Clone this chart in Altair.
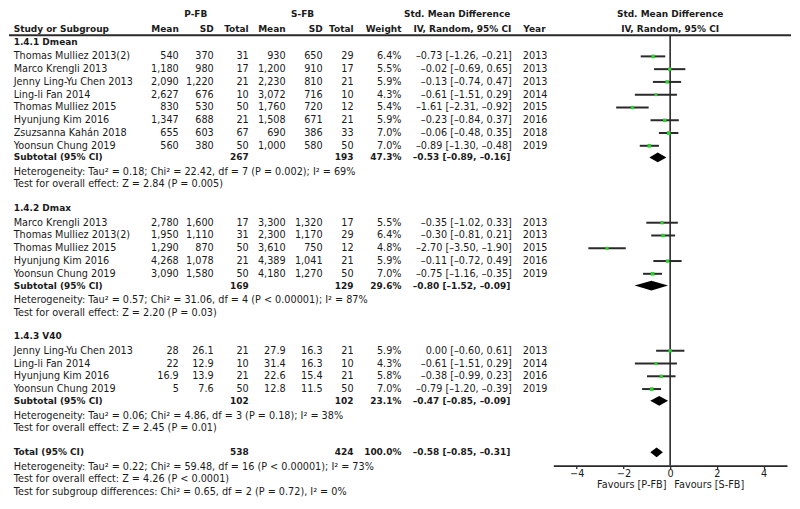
import altair as alt
import pandas as pd

# ---------------- data ----------------
section_titles = ["1.4.1 Dmean", "1.4.2 Dmax", "1.4.3 V40"]

dmean_study = ["Thomas Mulliez 2013(2)", "Marco Krengli 2013", "Jenny Ling-Yu Chen 2013",
               "Ling-li Fan 2014", "Thomas Mulliez 2015", "Hyunjung Kim 2016",
               "Zsuzsanna Kahán 2018", "Yoonsun Chung 2019"]
dmean_p_mean = [540, 1180, 2090, 2627, 830, 1347, 655, 560]
dmean_p_sd = [370, 980, 1220, 676, 530, 688, 603, 380]
dmean_p_n = [31, 17, 21, 10, 50, 21, 67, 50]
dmean_s_mean = [930, 1200, 2230, 3072, 1760, 1508, 690, 1000]
dmean_s_sd = [650, 910, 810, 716, 720, 671, 386, 580]
dmean_s_n = [29, 17, 21, 10, 12, 21, 33, 50]
dmean_weight = [6.4, 5.5, 5.9, 4.3, 5.4, 5.9, 7.0, 7.0]
dmean_smd = [-0.73, -0.02, -0.13, -0.61, -1.61, -0.23, -0.06, -0.89]
dmean_lo = [-1.26, -0.69, -0.74, -1.51, -2.31, -0.84, -0.48, -1.30]
dmean_hi = [-0.21, 0.65, 0.47, 0.29, -0.92, 0.37, 0.35, -0.48]
dmean_year = [2013, 2013, 2013, 2014, 2015, 2016, 2018, 2019]

dmax_study = ["Marco Krengli 2013", "Thomas Mulliez 2013(2)", "Thomas Mulliez 2015",
              "Hyunjung Kim 2016", "Yoonsun Chung 2019"]
dmax_p_mean = [2780, 1950, 1290, 4268, 3090]
dmax_p_sd = [1600, 1110, 870, 1078, 1580]
dmax_p_n = [17, 31, 50, 21, 50]
dmax_s_mean = [3300, 2300, 3610, 4389, 4180]
dmax_s_sd = [1320, 1170, 750, 1041, 1270]
dmax_s_n = [17, 29, 12, 21, 50]
dmax_weight = [5.5, 6.4, 4.8, 5.9, 7.0]
dmax_smd = [-0.35, -0.30, -2.70, -0.11, -0.75]
dmax_lo = [-1.02, -0.81, -3.50, -0.72, -1.16]
dmax_hi = [0.33, 0.21, -1.90, 0.49, -0.35]
dmax_year = [2013, 2013, 2015, 2016, 2019]

v40_study = ["Jenny Ling-Yu Chen 2013", "Ling-li Fan 2014", "Hyunjung Kim 2016", "Yoonsun Chung 2019"]
v40_p_mean = [28, 22, 16.9, 5]
v40_p_sd = [26.1, 12.9, 13.9, 7.6]
v40_p_n = [21, 10, 21, 50]
v40_s_mean = [27.9, 31.4, 22.6, 12.8]
v40_s_sd = [16.3, 16.3, 15.4, 11.5]
v40_s_n = [21, 10, 21, 50]
v40_weight = [5.9, 4.3, 5.8, 7.0]
v40_smd = [0.00, -0.61, -0.38, -0.79]
v40_lo = [-0.60, -1.51, -0.99, -1.20]
v40_hi = [0.61, 0.29, 0.23, -0.39]
v40_year = [2013, 2014, 2016, 2019]

subtotal_p_n = [267, 169, 102]
subtotal_s_n = [193, 129, 102]
subtotal_weight = [47.3, 29.6, 23.1]
subtotal_smd = [-0.53, -0.80, -0.47]
subtotal_lo = [-0.89, -1.52, -0.85]
subtotal_hi = [-0.16, -0.09, -0.09]
subtotal_heterogeneity = [
    "Heterogeneity: Tau² = 0.18; Chi² = 22.42, df = 7 (P = 0.002); I² = 69%",
    "Heterogeneity: Tau² = 0.57; Chi² = 31.06, df = 4 (P < 0.00001); I² = 87%",
    "Heterogeneity: Tau² = 0.06; Chi² = 4.86, df = 3 (P = 0.18); I² = 38%",
]
subtotal_effect = [
    "Test for overall effect: Z = 2.84 (P = 0.005)",
    "Test for overall effect: Z = 2.20 (P = 0.03)",
    "Test for overall effect: Z = 2.45 (P = 0.01)",
]

total_p_n = 538
total_s_n = 424
total_weight = 100.0
total_smd = -0.58
total_lo = -0.85
total_hi = -0.31
total_notes = [
    "Heterogeneity: Tau² = 0.22; Chi² = 59.48, df = 16 (P < 0.00001); I² = 73%",
    "Test for overall effect: Z = 4.26 (P < 0.0001)",
    "Test for subgroup differences: Chi² = 0.65, df = 2 (P = 0.72), I² = 0%",
]

axis_ticks = [-4, -2, 0, 2, 4]
favours_labels = ["Favours [P-FB]", "Favours [S-FB]"]

sections = [
    dict(study=dmean_study, pm=dmean_p_mean, psd=dmean_p_sd, pn=dmean_p_n, sm=dmean_s_mean,
         ssd=dmean_s_sd, sn=dmean_s_n, w=dmean_weight, smd=dmean_smd, lo=dmean_lo, hi=dmean_hi, yr=dmean_year),
    dict(study=dmax_study, pm=dmax_p_mean, psd=dmax_p_sd, pn=dmax_p_n, sm=dmax_s_mean,
         ssd=dmax_s_sd, sn=dmax_s_n, w=dmax_weight, smd=dmax_smd, lo=dmax_lo, hi=dmax_hi, yr=dmax_year),
    dict(study=v40_study, pm=v40_p_mean, psd=v40_p_sd, pn=v40_p_n, sm=v40_s_mean,
         ssd=v40_s_sd, sn=v40_s_n, w=v40_weight, smd=v40_smd, lo=v40_lo, hi=v40_hi, yr=v40_year),
]

# ---------------- styling / layout ----------------
FONT = "DejaVu Sans"
FS = 9.7
FS_B = 9.0
INK = "#1a1a1a"
LINE = "#2a2a2a"
GREEN = "#33cc33"

# column anchors (page-pixel units of the left table panel)
C = dict(name=12.7, pm=178, psd=213, pn=248, sm=285, ssd=322, sn=353, w=401, ci=511.5, yr=522.5)
HEAD1_Y, HEAD2_Y, RULE_Y = 7.3, 22.3, 28.5


def num(v):
    return f"{v:,}" if float(v).is_integer() else f"{v:g}"


def dash(s):
    return s.replace("-", "–")


def ci_text(e, l, h):
    return dash(f"{e:.2f} [{l:.2f}, {h:.2f}]")


texts = []
studies = []
diamonds = []


def put(x, y, t, align="left", bold=False):
    texts.append(dict(x=x, y=y, text=t, align=align, bold=bold))


def diamond(idx, e, l, h, y):
    half = 5
    diamonds.append(dict(d=idx, x=l, y=y, y2=y))
    diamonds.append(dict(d=idx, x=e, y=y - half, y2=y + half))
    diamonds.append(dict(d=idx, x=h, y=y, y2=y))


# header
put(195, HEAD1_Y, "P-FB", "center", True)
put(302, HEAD1_Y, "S-FB", "center", True)
put(510, HEAD1_Y, "Std. Mean Difference", "right", True)
put(C["name"], HEAD2_Y, "Study or Subgroup", "left", True)
for key, lab in [("pm", "Mean"), ("psd", "SD"), ("pn", "Total"), ("sm", "Mean"),
                 ("ssd", "SD"), ("sn", "Total"), ("w", "Weight")]:
    put(C[key], HEAD2_Y, lab, "right", True)
put(511, HEAD2_Y, "IV, Random, 95% CI", "right", True)
put(C["yr"] + 0.5, HEAD2_Y, "Year", "left", True)

y = 35.5
for si, sec in enumerate(sections):
    put(C["name"], y, section_titles[si], "left", True)
    y += 14.8
    for i in range(len(sec["study"])):
        put(C["name"], y, sec["study"][i])
        for key in ["pm", "psd", "pn", "sm", "ssd", "sn"]:
            put(C[key], y, num(sec[key][i]), "right")
        put(C["w"], y, f"{sec['w'][i]:.1f}%", "right")
        put(C["ci"], y, ci_text(sec["smd"][i], sec["lo"][i], sec["hi"][i]), "right")
        put(C["yr"], y, str(sec["yr"][i]))
        studies.append(dict(y=y, smd=sec["smd"][i], lo=sec["lo"][i], hi=sec["hi"][i], w=sec["w"][i]))
        y += 13.1
    y -= 1.1
    put(C["name"], y, "Subtotal (95% CI)", "left", True)
    put(C["pn"], y, str(subtotal_p_n[si]), "right", True)
    put(C["sn"], y, str(subtotal_s_n[si]), "right", True)
    put(C["w"], y, f"{subtotal_weight[si]:.1f}%", "right", True)
    put(C["ci"] - 1.5, y, ci_text(subtotal_smd[si], subtotal_lo[si], subtotal_hi[si]), "right", True)
    diamond(si, subtotal_smd[si], subtotal_lo[si], subtotal_hi[si], y)
    y += 15.2
    put(C["name"], y, subtotal_heterogeneity[si])
    y += 12.5
    put(C["name"], y, subtotal_effect[si])
    y += 24.4 if si < len(sections) - 1 else 25.2

put(C["name"], y, "Total (95% CI)", "left", True)
put(C["pn"], y, str(total_p_n), "right", True)
put(C["sn"], y, str(total_s_n), "right", True)
put(C["w"], y, f"{total_weight:.1f}%", "right", True)
put(C["ci"] - 1.5, y, ci_text(total_smd, total_lo, total_hi), "right", True)
diamond(9, total_smd, total_lo, total_hi, y)
y += 14.6
for note in total_notes:
    put(C["name"], y, note)
    y += 13.2

text_df = pd.DataFrame(texts)
study_df = pd.DataFrame(studies)
diamond_df = pd.DataFrame(diamonds)

# ---------------- scales (whole chart must fit 784 x 493) ----------------
LEFT_W, RIGHT_W = 545, 234
TOP, BOTTOM = 1, 506
LEFT_H = 493
K = LEFT_H / (BOTTOM - TOP)
AXIS_Y = 470
RIGHT_H = round((AXIS_Y - TOP) * K, 2)

x_left = alt.Scale(domain=[8, 8 + LEFT_W], nice=False, zero=False)
y_left = alt.Scale(domain=[TOP, BOTTOM], reverse=True, nice=False, zero=False)
x_right = alt.Scale(domain=[-5, 5], nice=False, zero=False)
y_right = alt.Scale(domain=[TOP, AXIS_Y], reverse=True, nice=False, zero=False)

forest_axis = alt.Axis(values=axis_ticks, title=None, grid=False, domainColor=LINE, domainWidth=1.6,
                       tickColor=LINE, tickWidth=1.3, tickSize=3, labelFont=FONT, labelFontSize=FS,
                       labelColor=INK, labelPadding=0, labelFlush=False)


def text_layers(df, xs, ys):
    layers = []
    for align in ["left", "right", "center"]:
        for bold in [False, True]:
            sub = df[(df["align"] == align) & (df["bold"] == bold)]
            if len(sub) == 0:
                continue
            layers.append(
                alt.Chart(sub).mark_text(align=align, baseline="middle", font=FONT,
                                         fontSize=FS_B if bold else FS,
                                         fontWeight="bold" if bold else "normal", color=INK)
                .encode(x=alt.X("x:Q", scale=xs, axis=None),
                        y=alt.Y("y:Q", scale=ys, axis=None),
                        text="text:N")
            )
    return layers


# ---------------- left panel: table ----------------
header_rule = alt.Chart(pd.DataFrame({"x": [8], "x2": [791], "y": [RULE_Y]})).mark_rule(
    color=LINE, strokeWidth=2).encode(
    x=alt.X("x:Q", scale=x_left, axis=None), x2="x2:Q", y=alt.Y("y:Q", scale=y_left, axis=None))

left = alt.layer(header_rule, *text_layers(text_df, x_left, y_left)).properties(width=LEFT_W, height=LEFT_H)

# ---------------- right panel: forest plot ----------------
right_head = pd.DataFrame({"x": [0, 0], "y": [HEAD1_Y, HEAD2_Y],
                           "text": ["Std. Mean Difference", "IV, Random, 95% CI"]})
head_layer = alt.Chart(right_head).mark_text(align="center", baseline="middle", font=FONT, fontSize=FS_B,
                                             fontWeight="bold", color=INK).encode(
    x=alt.X("x:Q", scale=x_right, axis=forest_axis), y=alt.Y("y:Q", scale=y_right, axis=None), text="text:N")

zero_line = alt.Chart(pd.DataFrame({"x": [0], "y": [RULE_Y], "y2": [AXIS_Y]})).mark_rule(
    color=LINE, strokeWidth=1.6).encode(
    x=alt.X("x:Q", scale=x_right, axis=forest_axis), y=alt.Y("y:Q", scale=y_right, axis=None), y2="y2:Q")

ci_lines = alt.Chart(study_df).mark_rule(color=LINE, strokeWidth=2).encode(
    x=alt.X("lo:Q", scale=x_right, axis=forest_axis), x2="hi:Q",
    y=alt.Y("y:Q", scale=y_right, axis=None))

boxes = alt.Chart(study_df).mark_point(shape="square", filled=True, color=GREEN, opacity=1).encode(
    x=alt.X("smd:Q", scale=x_right, axis=forest_axis),
    y=alt.Y("y:Q", scale=y_right, axis=None),
    size=alt.Size("w:Q", scale=alt.Scale(domain=[0, 7], range=[0, 14]), legend=None))

diamond_layer = alt.Chart(diamond_df).mark_area(color="#000000", orient="vertical", opacity=1).encode(
    x=alt.X("x:Q", scale=x_right, axis=forest_axis),
    y=alt.Y("y:Q", scale=y_right, axis=None), y2="y2:Q", detail="d:N")

fav_df = pd.DataFrame({"x": [-0.16, 0.18], "y": [489.5, 489.5], "text": favours_labels})
fav_left = alt.Chart(fav_df.iloc[[0]]).mark_text(align="right", baseline="middle", font=FONT, fontSize=FS,
                                                  color=INK).encode(
    x=alt.X("x:Q", scale=x_right, axis=forest_axis), y=alt.Y("y:Q", scale=y_right, axis=None), text="text:N")
fav_right = alt.Chart(fav_df.iloc[[1]]).mark_text(align="left", baseline="middle", font=FONT, fontSize=FS,
                                                   color=INK).encode(
    x=alt.X("x:Q", scale=x_right, axis=forest_axis), y=alt.Y("y:Q", scale=y_right, axis=None), text="text:N")

right = alt.layer(zero_line, ci_lines, diamond_layer, boxes, head_layer, fav_left, fav_right).properties(
    width=RIGHT_W, height=RIGHT_H)

chart = alt.hconcat(left, right, spacing=0, bounds="flush").properties(
    padding=0, background="white").configure_view(stroke=None)

chart.save("out.html", embed_options={"renderer": "svg", "actions": False})
